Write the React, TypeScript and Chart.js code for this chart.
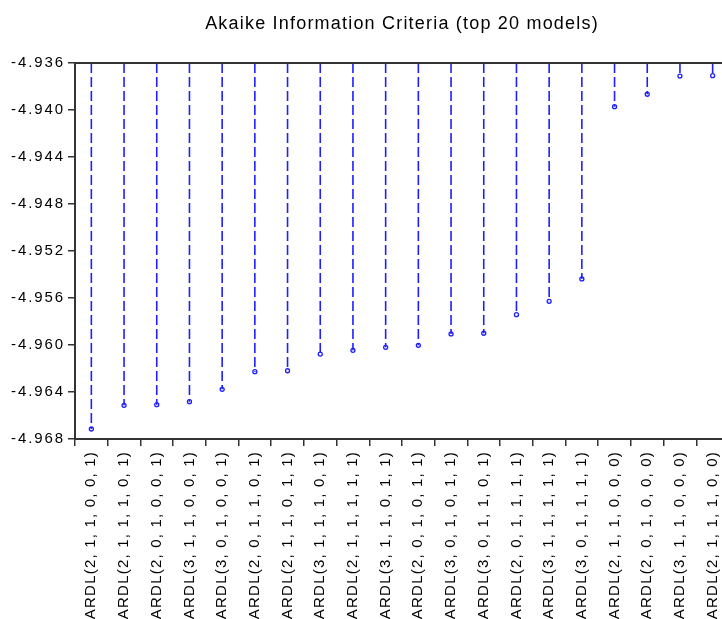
import React, { useEffect, useRef } from "react";
import { Chart, registerables } from "chart.js";

Chart.register(...registerables);

const chartTitle = "Akaike Information Criteria (top 20 models)";

const categories = [
  "ARDL(2, 1, 1, 0, 0, 1)",
  "ARDL(2, 1, 1, 1, 0, 1)",
  "ARDL(2, 0, 1, 0, 0, 1)",
  "ARDL(3, 1, 1, 0, 0, 1)",
  "ARDL(3, 0, 1, 0, 0, 1)",
  "ARDL(2, 0, 1, 1, 0, 1)",
  "ARDL(2, 1, 1, 0, 1, 1)",
  "ARDL(3, 1, 1, 1, 0, 1)",
  "ARDL(2, 1, 1, 1, 1, 1)",
  "ARDL(3, 1, 1, 0, 1, 1)",
  "ARDL(2, 0, 1, 0, 1, 1)",
  "ARDL(3, 0, 1, 0, 1, 1)",
  "ARDL(3, 0, 1, 1, 0, 1)",
  "ARDL(2, 0, 1, 1, 1, 1)",
  "ARDL(3, 1, 1, 1, 1, 1)",
  "ARDL(3, 0, 1, 1, 1, 1)",
  "ARDL(2, 1, 1, 0, 0, 0)",
  "ARDL(2, 0, 1, 0, 0, 0)",
  "ARDL(3, 1, 1, 0, 0, 0)",
  "ARDL(2, 1, 1, 1, 0, 0)",
];

const aicValues = [
  -4.96715, -4.96513, -4.96508, -4.96482, -4.96377,
  -4.96227, -4.96219, -4.96077, -4.96045, -4.9602,
  -4.96003, -4.95906, -4.959, -4.95742, -4.95628,
  -4.95438, -4.93972, -4.93866, -4.93711, -4.93708,
];

const yTicks = [-4.968, -4.964, -4.96, -4.956, -4.952, -4.948, -4.944, -4.94, -4.936];
const Y_MIN = -4.968;
const Y_MAX = -4.936;

const BLUE = "#1e1eff";
const AXIS = "#333333";
const FONT = "'Liberation Sans', Arial, sans-serif";

const spacingPlugin = {
  id: "letterSpacingWrap",
  afterLayout(chart: any) {
    const wrap = (obj: any, key: string, sp: string) => {
      if (!obj || obj.__lsWrapped) return;
      const orig = obj[key].bind(obj);
      obj[key] = (...args: any[]) => {
        const ctx: any = chart.ctx;
        const prev = ctx.letterSpacing;
        ctx.letterSpacing = sp;
        try {
          orig(...args);
        } finally {
          ctx.letterSpacing = prev || "0px";
        }
      };
      obj.__lsWrapped = true;
    };
    wrap(chart.scales.x, "drawLabels", "1.2px");
    wrap(chart.scales.y, "drawLabels", "1.9px");
    wrap(chart.titleBlock, "draw", "1.2px");
  },
};

const topBorderPlugin = {
  id: "topBorder",
  afterDraw(chart: any) {
    const { ctx, chartArea } = chart;
    ctx.save();
    ctx.strokeStyle = AXIS;
    ctx.lineWidth = 2;
    ctx.beginPath();
    ctx.moveTo(chartArea.left - 1, chartArea.top);
    ctx.lineTo(chartArea.right, chartArea.top);
    ctx.stroke();
    ctx.restore();
  },
};

export default function App() {
  const ref = useRef<HTMLCanvasElement | null>(null);

  useEffect(() => {
    if (!ref.current) return;
    const stemData: any[] = [];
    categories.forEach((c, i) => {
      stemData.push({ x: c, y: Y_MAX });
      stemData.push({ x: c, y: aicValues[i] });
      stemData.push({ x: c, y: null });
    });
    const pointData = categories.map((c, i) => ({ x: c, y: aicValues[i] }));

    const chart = new Chart(ref.current, {
      type: "line",
      data: {
        labels: categories,
        datasets: [
          {
            data: stemData,
            borderColor: BLUE,
            borderWidth: 1.6,
            borderDash: [10, 4],
            pointRadius: 0,
            spanGaps: false,
            fill: false,
          },
          {
            data: pointData,
            showLine: false,
            borderColor: BLUE,
            pointBackgroundColor: "#ffffff",
            pointBorderColor: BLUE,
            pointBorderWidth: 1.3,
            pointRadius: 2,
          },
        ],
      },
      options: {
        responsive: false,
        animation: false,
        layout: { padding: { left: 0, right: 11, top: 0, bottom: 0 } },
        plugins: {
          legend: { display: false },
          tooltip: { enabled: false },
          title: {
            display: true,
            text: chartTitle,
            color: "#000000",
            fullSize: false,
            font: { family: FONT, size: 18, weight: "normal" },
            padding: { top: 13, bottom: 28.4 },
          },
        },
        scales: {
          x: {
            type: "category",
            offset: true,
            grid: {
              offset: true,
              drawOnChartArea: false,
              drawTicks: true,
              tickLength: 7,
              color: AXIS,
              lineWidth: 1.5,
            },
            border: { display: true, color: AXIS, width: 2 },
            ticks: {
              autoSkip: false,
              minRotation: 90,
              maxRotation: 90,
              padding: 5,
              color: "#000000",
              font: { family: FONT, size: 15 },
            },
            afterFit: (s: any) => {
              s.height = 180;
            },
          },
          y: {
            min: Y_MIN,
            max: Y_MAX,
            grid: {
              drawOnChartArea: false,
              drawTicks: true,
              tickLength: 7,
              color: AXIS,
              lineWidth: 1.5,
            },
            border: { display: true, color: AXIS, width: 2 },
            ticks: {
              padding: 3,
              color: "#000000",
              font: { family: FONT, size: 15 },
              callback: (v: any) => Number(v).toFixed(3),
            },
            afterBuildTicks: (s: any) => {
              s.ticks = yTicks.map((v) => ({ value: v }));
            },
            afterFit: (s: any) => {
              s.width = 75;
            },
          },
        },
      },
      plugins: [spacingPlugin, topBorderPlugin],
    } as any);

    return () => chart.destroy();
  }, []);

  return (
    <div
      style={{
        position: "fixed",
        left: 0,
        top: 0,
        width: 722,
        height: 619,
        overflow: "hidden",
        background: "#ffffff",
      }}
    >
      <canvas ref={ref} width={740} height={619} style={{ display: "block" }} />
    </div>
  );
}
